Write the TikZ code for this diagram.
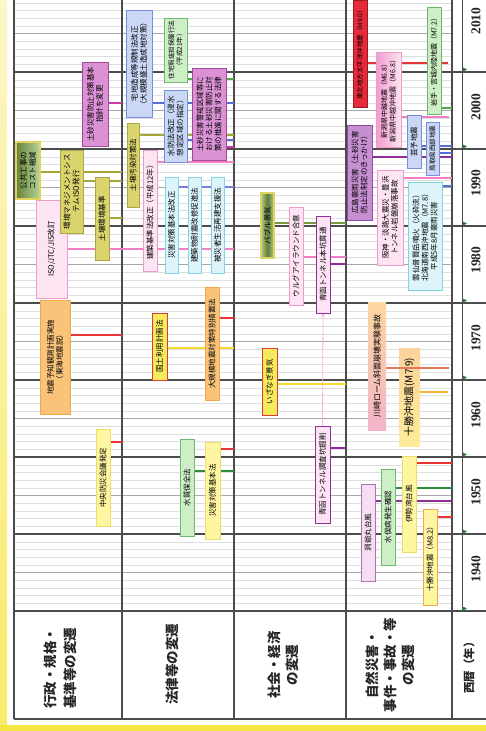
\documentclass[tikz,border=0pt]{standalone}
\usepackage{fontspec}
\setmainfont{Liberation Serif}
\newfontfamily\jp{Noto Sans CJK JP}
\usetikzlibrary{arrows.meta}
\pgfdeclarelayer{bg}
\pgfdeclarelayer{grid}
\pgfdeclarelayer{links}
\pgfdeclarelayer{front}
\pgfsetlayers{bg,grid,links,main,front}

% box fills / borders
\definecolor{pkF}{HTML}{FDE4F2}\definecolor{pkD}{HTML}{EE9ACB}
\definecolor{mgF}{HTML}{DA92D4}\definecolor{mgD}{HTML}{A5459C}
\definecolor{puF}{HTML}{C58FD2}\definecolor{puD}{HTML}{8C4AA0}
\definecolor{blF}{HTML}{CAD8F6}\definecolor{blD}{HTML}{7390DC}
\definecolor{cyF}{HTML}{DCF4FA}\definecolor{cyD}{HTML}{7FD4E6}
\definecolor{grF}{HTML}{CDEEC6}\definecolor{grD}{HTML}{6DBB6A}
\definecolor{olF}{HTML}{D9D46E}\definecolor{olD}{HTML}{ACA447}
\definecolor{yeF}{HTML}{FFF6A2}\definecolor{yeD}{HTML}{EEDC6A}
\definecolor{orF}{HTML}{F9C47A}\definecolor{orD}{HTML}{F0A848}
\definecolor{yrF}{HTML}{F6EB5C}\definecolor{yrD}{HTML}{E23A32}
\definecolor{rdF}{HTML}{E62A3A}\definecolor{rdD}{HTML}{9C1A22}
\definecolor{ggD}{HTML}{E3D35A}
\definecolor{lpF}{HTML}{F5DDF2}\definecolor{lpD}{HTML}{B070B8}
\definecolor{quakeA}{HTML}{F49AD0}
\definecolor{peach}{HTML}{FCD7A0}
\definecolor{rose}{HTML}{F2B4C8}
% connector colours
\definecolor{cMag}{HTML}{C83AA8}\definecolor{cBlue}{HTML}{5A6FD6}
\definecolor{cOlive}{HTML}{A4A63A}\definecolor{cGreen}{HTML}{2F8A3C}
\definecolor{cRed}{HTML}{E83434}\definecolor{cYel}{HTML}{F2DA2E}
\definecolor{cOrg}{HTML}{F7B23C}\definecolor{cPink}{HTML}{F27FC4}
\definecolor{cPur}{HTML}{8E2F9A}\definecolor{cSal}{HTML}{E8785E}
\definecolor{cViolet}{HTML}{7A7EE0}\definecolor{cLeaf}{HTML}{7A9A40}
\definecolor{cLgreen}{HTML}{4FA84A}
% page
\definecolor{ywPale}{HTML}{FCF6C8}\definecolor{ywBright}{HTML}{F7E640}
\definecolor{tickg}{HTML}{2E7D32}

\tikzset{
  bx/.style={draw, line width=0.9pt, rotate=90, inner sep=0pt, outer sep=0pt,
    align=center, text=black, font=\jp\fontsize{7.5}{9}\selectfont},
  small/.style={font=\jp\fontsize{6.5}{8}\selectfont},
  mid/.style={font=\jp\fontsize{7}{8.5}\selectfont},
  pinkbox/.style={fill=pkF, draw=pkD},
  magbox/.style={fill=mgF, draw=mgD},
  purbox/.style={fill=puF, draw=puD},
  bluebox/.style={fill=blF, draw=blD},
  cyanbox/.style={fill=cyF, draw=cyD},
  greenbox/.style={fill=grF, draw=grD},
  olivebox/.style={fill=olF, draw=olD},
  yellowbox/.style={fill=yeF, draw=yeD},
  orangebox/.style={fill=orF, draw=orD},
  alertbox/.style={fill=yrF, draw=yrD},
  redbox/.style={fill=rdF, draw=rdD},
  lilacbox/.style={fill=lpF, draw=lpD},
  tunnelbox/.style={fill=pkF, draw=cPur},
  link/.style={line width=2.6pt},
  gfaint/.style={draw=black!13, line width=0.4pt},
  gmid/.style={draw=black!35, line width=0.7pt},
  gdark/.style={draw=black!70, line width=1.1pt},
  gthin/.style={draw=black!70, line width=0.7pt},
  yr/.style={rotate=90, inner sep=0pt, text=black!85,
    font=\bfseries\fontsize{13.5}{14}\selectfont},
  hdr/.style={rotate=90, inner sep=0pt, align=center, text=black!85,
    font=\jp\bfseries\fontsize{13.5}{20}\selectfont},
  hdrtight/.style={hdr, font=\jp\bfseries\fontsize{13.5}{18}\selectfont},
}

% box spanning x1..x2, y1..y2, text read bottom to top
\newcommand\tbox[7]{\node[bx,#2,minimum width={(#6-#4)*1pt},minimum height={(#5-#3)*1pt}] (#1) at ({(#3+#5)/2},{(#4+#6)/2}) {#7};}
% year line from the right side of a box to the next row border
\newcommand\tie[4]{\coordinate (#1t) at (#3,#4);\draw[link,#2] (#1.south |- #1t) -- (#1t);}

\begin{document}
\begin{tikzpicture}[x=1pt,y=-1pt]
\useasboundingbox (0,0) rectangle (486,731);

\begin{pgfonlayer}{bg}
  \fill[white] (0,0) rectangle (486,731);
  \shade[top color=ywPale, bottom color=ywBright!70!ywPale] (0,0) rectangle (7,731);
  \fill[ywBright] (0,725) rectangle (486,731);
\end{pgfonlayer}

% ---------- grid: years, five-year marks, decades, rows ----------
\begin{pgfonlayer}{grid}
  \foreach \k in {1,...,79} \draw[gfaint] (14,{611-7.7*\k}) -- (452,{611-7.7*\k});
  \foreach \k in {5,15,...,75} \draw[gmid] (14,{611-7.7*\k}) -- (452,{611-7.7*\k});
  \foreach \k in {0,10,...,70} {
    \draw[gdark] (14,{611-7.7*\k}) -- (486,{611-7.7*\k});
    \fill[tickg] (462,{611-7.7*\k}) -- (467,{608.5-7.7*\k}) -- (462,{606-7.7*\k}) -- cycle;
  }
  \foreach \x in {14,122,234,346,452} \draw[gdark] (\x,0) -- (\x,719);
  \draw[gdark] (14,719) -- (486,719);
  \draw[gthin] (462,0) -- (462,606);
\end{pgfonlayer}

% ---------- year labels ----------
\node[yr] (y2010) at (476,21) {2010};
\node[yr] (y2000) at (476,107) {2000};
\node[yr] (y1990) at (476,183) {1990};
\node[yr] (y1980) at (476,260) {1980};
\node[yr] (y1970) at (476,338) {1970};
\node[yr] (y1960) at (476,415) {1960};
\node[yr] (y1950) at (476,492) {1950};
\node[yr] (y1940) at (476,569) {1940};

% ---------- row headings ----------
\node[hdr] (h1) at (60,668) {行政・規格・\\基準等の変遷};
\node[hdr] (h2) at (172,664) {法律等の変遷};
\node[hdrtight] (h3) at (283,665) {社会・経済\\の変遷};
\node[hdrtight] (h4) at (390,665) {自然災害・\\事件・事故・等\\の変遷};
\node[hdr, font=\jp\bfseries\fontsize{11.5}{14}\selectfont] (h5) at (469,665) {西暦（年）};

% ---------- row 1: administration, standards ----------
\shade[left color=cLeaf!85!black, right color=grF!70!cLeaf] (16,142) rectangle (40,199);
\tbox{R1a}{draw=ggD, line width=1.1pt}{16}{142}{40}{199}{公共工事の\\コスト縮減}
\tbox{R1b}{pinkbox}{36}{200}{67}{298}{ISO/JTC/JIS改訂}
\tbox{R1c}{olivebox}{60}{150}{83}{233}{環境マネジメントシス\\テムISO発行}
\tbox{R1d}{olivebox}{95}{177}{109}{260}{土壌環境基準}
\tbox{R1e}{magbox}{82}{62}{108}{146}{土砂災害防止対策基本\\指針を変更}
\tbox{R1f}{orangebox}{40}{300}{70}{414}{地震予知観測計画実施\\（東海地震説）}
\tbox{R1g}{yellowbox}{96}{429}{110}{526}{中央防災会議発足}

% ---------- row 2: laws ----------
\tbox{R2a}{bluebox}{126}{10}{152}{117}{宅地造成等規制法改正\\（大規模盛土造成地対策）}
\tbox{R2b}{greenbox,small}{164}{18}{187}{82}{住宅瑕疵担保履行法\\（平成21年）}
\tbox{R2c}{bluebox}{164}{90}{187}{162}{水防法改正（浸水\\想定区域の指定）}
\tbox{R2d}{magbox}{192}{68}{226}{160}{土砂災害警戒区域等に\\おける土砂災害防止対\\策の推進に関する法律}
\tbox{R2e}{pinkbox}{143}{150}{157}{271}{建築基準法改正（平成12年）}
\tbox{R2f}{olivebox}{127}{123}{139}{207}{土壌汚染対策法}
\tbox{R2g}{cyanbox}{165}{177}{178}{273}{災害対策基本法改正}
\tbox{R2h}{cyanbox}{188}{177}{201}{273}{建築物耐震改修促進法}
\tbox{R2i}{cyanbox}{211}{177}{224}{273}{被災者生活再建支援法}
\tbox{R2j}{alertbox}{152}{313}{167}{380}{国土利用計画法}
\tbox{R2k}{orangebox}{205}{287}{219}{400}{大規模地震対策特別措置法}
\tbox{R2l}{greenbox}{180}{439}{194}{536}{水質保全法}
\tbox{R2m}{yellowbox}{205}{442}{220}{539}{災害対策基本法}

% ---------- row 3: society, economy ----------
\shade[left color=grF!60!cLeaf, right color=grF!60!cLeaf, middle color=cLeaf!80!black] (261,193) rectangle (274,258);
\tbox{R3a}{draw=ggD, line width=1.1pt}{261}{193}{274}{258}{バブル景気}
\tbox{R3b}{pinkbox}{289}{207}{303}{305}{ウルグアイラウンド合意}
\tbox{R3c}{tunnelbox}{316}{216}{330}{313}{青函トンネル本坑貫通}
\tbox{R3d}{tunnelbox}{315}{426}{330}{523}{青函トンネル調査坑掘削}
\tbox{R3e}{alertbox}{262}{348}{277}{415}{いざなぎ景気}

% ---------- row 4: disasters, incidents ----------
\tbox{R4a}{redbox,small}{353}{0}{367}{107}{東北地方太平洋沖地震（M9.0）}
\tbox{R4n}{greenbox,mid}{427}{7}{441}{114}{岩手・宮城内陸地震（M7.2）}
\shade[left color=quakeA, right color=pkF] (376,52) rectangle (401,147);
\tbox{R4b}{draw=pkD,mid}{376}{52}{401}{147}{新潟県中越地震（M6.8）\\新潟県中越沖地震（M6.8）}
\tbox{R4c}{bluebox}{407}{115}{421}{168}{芸予地震}
\tbox{R4d}{bluebox,small}{426}{122}{439}{175}{鳥取県西部地震}
\tbox{R4e}{purbox}{347}{125}{372}{220}{広島豪雨災害（土砂災害\\防止法制定のきっかけ）}
\tbox{R4f}{pinkbox}{377}{170}{403}{265}{阪神・淡路大震災・豊浜\\トンネル岩盤崩落事故}
\tbox{R4g}{cyanbox}{408}{182}{442}{290}{雲仙普賢岳噴火（火砕流）\\北海道南西沖地震（M7.8）\\平成5年8月豪雨災害}
\shade[top color=peach, bottom color=rose] (368,302) rectangle (386,430);
\tbox{R4h}{draw=none, font=\jp\fontsize{8}{9}\selectfont}{368}{302}{386}{430}{川崎ローム斜面崩壊実験事故}
\shade[top color=orF!75!white, bottom color=yeF!80!orF] (399,348) rectangle (420,446);
\tbox{R4i}{draw=none, font=\jp\fontsize{10}{11}\selectfont}{399}{348}{420}{446}{十勝沖地震(M7.9)}
\tbox{R4j}{lilacbox}{361}{484}{375}{581}{洞爺丸台風}
\tbox{R4k}{greenbox}{381}{469}{395}{565}{水俣病発生確認}
\tbox{R4l}{yellowbox}{402}{456}{416}{552}{伊勢湾台風}
\tbox{R4m}{fill=yeF, draw=orD}{423}{509}{437}{605}{十勝沖地震（M8.2）}

% ---------- year lines ----------
\begin{pgfonlayer}{links}
  \tie{R1e}{cMag}{122}{103}
  \tie{R1a}{cOlive}{122}{172}
  \tie{R1c}{cOlive}{122}{181}
  \tie{R1d}{cOlive}{122}{218}
  \tie{R1b}{cPink}{234}{249}
  \tie{R1f}{cRed}{122}{335}
  \tie{R1g}{cRed}{122}{442}
  \tie{R2b}{cLgreen}{234}{79}
  \tie{R2a}{cBlue}{234}{103}
  \tie{R2f}{cOlive}{234}{135}
  \tie{R2c}{cBlue}{234}{140}
  \tie{R2d}{cMag}{234}{147}
  \tie{R2e}{cPink}{234}{162}
  \tie{R2g}{cViolet}{234}{187}
  \tie{R2k}{cRed}{234}{318}
  \tie{R2j}{cYel}{234}{348}
  \tie{R2m}{cRed}{234}{449}
  \tie{R2l}{cGreen}{234}{471}
  \tie{R3a}{cLeaf}{346}{223}
  \tie{R3b}{cPink}{346}{257}
  \tie{R3c}{cPur}{346}{264}
  \tie{R3e}{cYel}{346}{384}
  \tie{R3d}{cPur}{346}{448}
  \tie{R4a}{cRed}{448}{63}
  \tie{R4n}{cLgreen}{452}{108}
  \tie{R4b}{cPink}{449}{117}
  \tie{R4c}{cBlue}{452}{146}
  \tie{R4d}{cBlue}{452}{153}
  \tie{R4e}{cPur}{452}{157}
  \tie{R4f}{cPink}{452}{178}
  \tie{R4g}{cBlue}{452}{186}
  \tie{R4i}{cOrg}{448}{392}
  \tie{R4l}{cRed}{452}{463}
  \tie{R4k}{cGreen}{452}{488}
  \tie{R4j}{cPur}{452}{501}
  \tie{R4m}{cRed}{452}{517}
  \draw[pkD!70!white, line width=0.8pt, -{Stealth[length=4pt,width=4pt]}] (R3d.east) -- (R3c.west);
\end{pgfonlayer}
\begin{pgfonlayer}{front}
  \tie{R4h}{cSal}{449}{368}
\end{pgfonlayer}
\end{tikzpicture}
\end{document}
